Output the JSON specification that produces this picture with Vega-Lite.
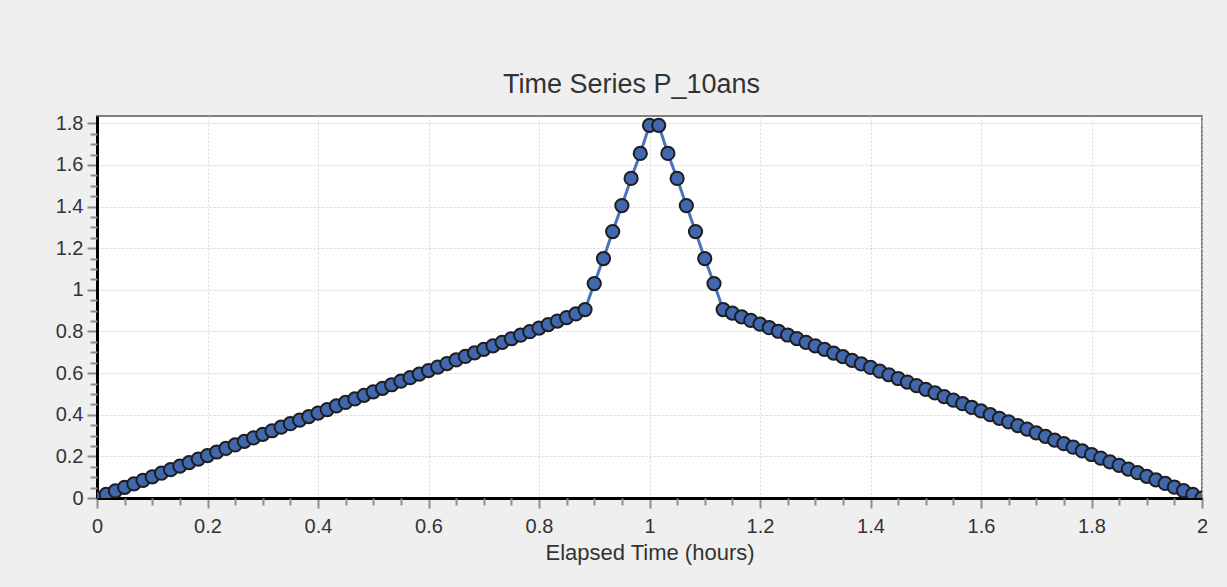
{
  "$schema": "https://vega.github.io/schema/vega-lite/v6.json",
  "autosize": {"type": "none"},
  "width": 1105,
  "height": 382,
  "padding": {"left": 97, "top": 116, "right": 25, "bottom": 89},
  "background": "#efefef",
  "title": {
    "text": "Time Series P_10ans",
    "font": "Liberation Sans",
    "fontSize": 27,
    "fontWeight": "normal",
    "color": "#333333",
    "anchor": "middle",
    "baseline": "alphabetic",
    "offset": -7,
    "dx": -18
  },
  "config": {
    "view": {"fill": "#ffffff", "stroke": "#7f7f7f", "strokeWidth": 2},
    "axis": {
      "labelFont": "Liberation Sans",
      "labelFontSize": 20,
      "labelColor": "#333333",
      "tickColor": "#8c8c8c",
      "tickWidth": 2,
      "domainColor": "#000000",
      "domainWidth": 3,
      "gridColor": "#d6d6d6",
      "gridDash": [2, 2],
      "gridWidth": 1,
      "titleFont": "Liberation Sans",
      "titleFontSize": 22,
      "titleFontWeight": "normal",
      "titleColor": "#333333",
      "labelFlush": false,
      "labelOverlap": false,
      "labelBound": false
    }
  },
  "data": {
    "values": [
      {"t": 0, "p": 0}, {"t": 0.0167, "p": 0.017}, {"t": 0.0333, "p": 0.034}, {"t": 0.05, "p": 0.051},
      {"t": 0.0667, "p": 0.068}, {"t": 0.0833, "p": 0.085}, {"t": 0.1, "p": 0.102}, {"t": 0.1167, "p": 0.119},
      {"t": 0.1333, "p": 0.136}, {"t": 0.15, "p": 0.153}, {"t": 0.1667, "p": 0.17}, {"t": 0.1833, "p": 0.187},
      {"t": 0.2, "p": 0.204}, {"t": 0.2167, "p": 0.221}, {"t": 0.2333, "p": 0.238}, {"t": 0.25, "p": 0.255},
      {"t": 0.2667, "p": 0.272}, {"t": 0.2833, "p": 0.289}, {"t": 0.3, "p": 0.306}, {"t": 0.3167, "p": 0.323},
      {"t": 0.3333, "p": 0.34}, {"t": 0.35, "p": 0.357}, {"t": 0.3667, "p": 0.374}, {"t": 0.3833, "p": 0.391},
      {"t": 0.4, "p": 0.408}, {"t": 0.4167, "p": 0.425}, {"t": 0.4333, "p": 0.442}, {"t": 0.45, "p": 0.459},
      {"t": 0.4667, "p": 0.476}, {"t": 0.4833, "p": 0.493}, {"t": 0.5, "p": 0.51}, {"t": 0.5167, "p": 0.527},
      {"t": 0.5333, "p": 0.544}, {"t": 0.55, "p": 0.561}, {"t": 0.5667, "p": 0.578}, {"t": 0.5833, "p": 0.595},
      {"t": 0.6, "p": 0.612}, {"t": 0.6167, "p": 0.629}, {"t": 0.6333, "p": 0.646}, {"t": 0.65, "p": 0.663},
      {"t": 0.6667, "p": 0.68}, {"t": 0.6833, "p": 0.697}, {"t": 0.7, "p": 0.714}, {"t": 0.7167, "p": 0.731},
      {"t": 0.7333, "p": 0.748}, {"t": 0.75, "p": 0.765}, {"t": 0.7667, "p": 0.782}, {"t": 0.7833, "p": 0.799},
      {"t": 0.8, "p": 0.816}, {"t": 0.8167, "p": 0.833}, {"t": 0.8333, "p": 0.85}, {"t": 0.85, "p": 0.867},
      {"t": 0.8667, "p": 0.884}, {"t": 0.8833, "p": 0.905}, {"t": 0.9, "p": 1.03}, {"t": 0.9167, "p": 1.15},
      {"t": 0.9333, "p": 1.28}, {"t": 0.95, "p": 1.405}, {"t": 0.9667, "p": 1.535}, {"t": 0.9833, "p": 1.655},
      {"t": 1, "p": 1.79}, {"t": 1.0167, "p": 1.79}, {"t": 1.0333, "p": 1.655}, {"t": 1.05, "p": 1.535},
      {"t": 1.0667, "p": 1.405}, {"t": 1.0833, "p": 1.28}, {"t": 1.1, "p": 1.15}, {"t": 1.1167, "p": 1.03},
      {"t": 1.1333, "p": 0.905}, {"t": 1.15, "p": 0.888}, {"t": 1.1667, "p": 0.87}, {"t": 1.1833, "p": 0.853},
      {"t": 1.2, "p": 0.835}, {"t": 1.2167, "p": 0.818}, {"t": 1.2333, "p": 0.801}, {"t": 1.25, "p": 0.783},
      {"t": 1.2667, "p": 0.766}, {"t": 1.2833, "p": 0.748}, {"t": 1.3, "p": 0.731}, {"t": 1.3167, "p": 0.714},
      {"t": 1.3333, "p": 0.696}, {"t": 1.35, "p": 0.679}, {"t": 1.3667, "p": 0.661}, {"t": 1.3833, "p": 0.644},
      {"t": 1.4, "p": 0.627}, {"t": 1.4167, "p": 0.609}, {"t": 1.4333, "p": 0.592}, {"t": 1.45, "p": 0.574},
      {"t": 1.4667, "p": 0.557}, {"t": 1.4833, "p": 0.54}, {"t": 1.5, "p": 0.522}, {"t": 1.5167, "p": 0.505},
      {"t": 1.5333, "p": 0.487}, {"t": 1.55, "p": 0.47}, {"t": 1.5667, "p": 0.453}, {"t": 1.5833, "p": 0.435},
      {"t": 1.6, "p": 0.418}, {"t": 1.6167, "p": 0.4}, {"t": 1.6333, "p": 0.383}, {"t": 1.65, "p": 0.366},
      {"t": 1.6667, "p": 0.348}, {"t": 1.6833, "p": 0.331}, {"t": 1.7, "p": 0.313}, {"t": 1.7167, "p": 0.296},
      {"t": 1.7333, "p": 0.278}, {"t": 1.75, "p": 0.261}, {"t": 1.7667, "p": 0.244}, {"t": 1.7833, "p": 0.226},
      {"t": 1.8, "p": 0.209}, {"t": 1.8167, "p": 0.192}, {"t": 1.8333, "p": 0.174}, {"t": 1.85, "p": 0.157},
      {"t": 1.8667, "p": 0.139}, {"t": 1.8833, "p": 0.122}, {"t": 1.9, "p": 0.104}, {"t": 1.9167, "p": 0.087},
      {"t": 1.9333, "p": 0.07}, {"t": 1.95, "p": 0.052}, {"t": 1.9667, "p": 0.035}, {"t": 1.9833, "p": 0.017},
      {"t": 2, "p": 0}
    ]
  },
  "layer": [
    {
      "mark": {"type": "line", "color": "#4a74b9", "strokeWidth": 3, "clip": true},
      "encoding": {
        "x": {
          "field": "t", "type": "quantitative",
          "scale": {"domain": [0, 2], "nice": false, "zero": false},
          "axis": {
            "orient": "bottom",
            "values": [0, 0.2, 0.4, 0.6, 0.8, 1, 1.2, 1.4, 1.6, 1.8, 2],
            "format": "~g",
            "title": "Elapsed Time (hours)",
            "titleBaseline": "alphabetic",
            "titleY": 61,
            "tickSize": 10,
            "labelPadding": 8,
            "grid": true
          }
        },
        "y": {
          "field": "p", "type": "quantitative",
          "scale": {"domain": [0, 1.835], "nice": false, "zero": true},
          "axis": {
            "orient": "left",
            "values": [0, 0.2, 0.4, 0.6, 0.8, 1, 1.2, 1.4, 1.6, 1.8],
            "format": "~g",
            "title": null,
            "tickSize": 10,
            "labelPadding": 4,
            "grid": true
          }
        }
      }
    },
    {
      "mark": {"type": "point", "shape": "circle", "filled": true, "fill": "#4168ae", "stroke": "#1e1e1e", "strokeWidth": 2, "size": 175, "opacity": 1, "clip": true},
      "encoding": {
        "x": {
          "field": "t", "type": "quantitative",
          "axis": {
            "orient": "bottom",
            "values": [0.05, 0.1, 0.15, 0.25, 0.3, 0.35, 0.45, 0.5, 0.55, 0.65, 0.7, 0.75, 0.85, 0.9, 0.95, 1.05, 1.1, 1.15, 1.25, 1.3, 1.35, 1.45, 1.5, 1.55, 1.65, 1.7, 1.75, 1.85, 1.9, 1.95],
            "labels": false,
            "domain": false,
            "grid": false,
            "title": null,
            "tickSize": 7
          }
        },
        "y": {
          "field": "p", "type": "quantitative",
          "axis": {
            "orient": "left",
            "values": [0.05, 0.1, 0.15, 0.25, 0.3, 0.35, 0.45, 0.5, 0.55, 0.65, 0.7, 0.75, 0.85, 0.9, 0.95, 1.05, 1.1, 1.15, 1.25, 1.3, 1.35, 1.45, 1.5, 1.55, 1.65, 1.7, 1.75],
            "labels": false,
            "domain": false,
            "grid": false,
            "title": null,
            "tickSize": 7
          }
        }
      }
    }
  ],
  "resolve": {"axis": {"x": "independent", "y": "independent"}}
}
